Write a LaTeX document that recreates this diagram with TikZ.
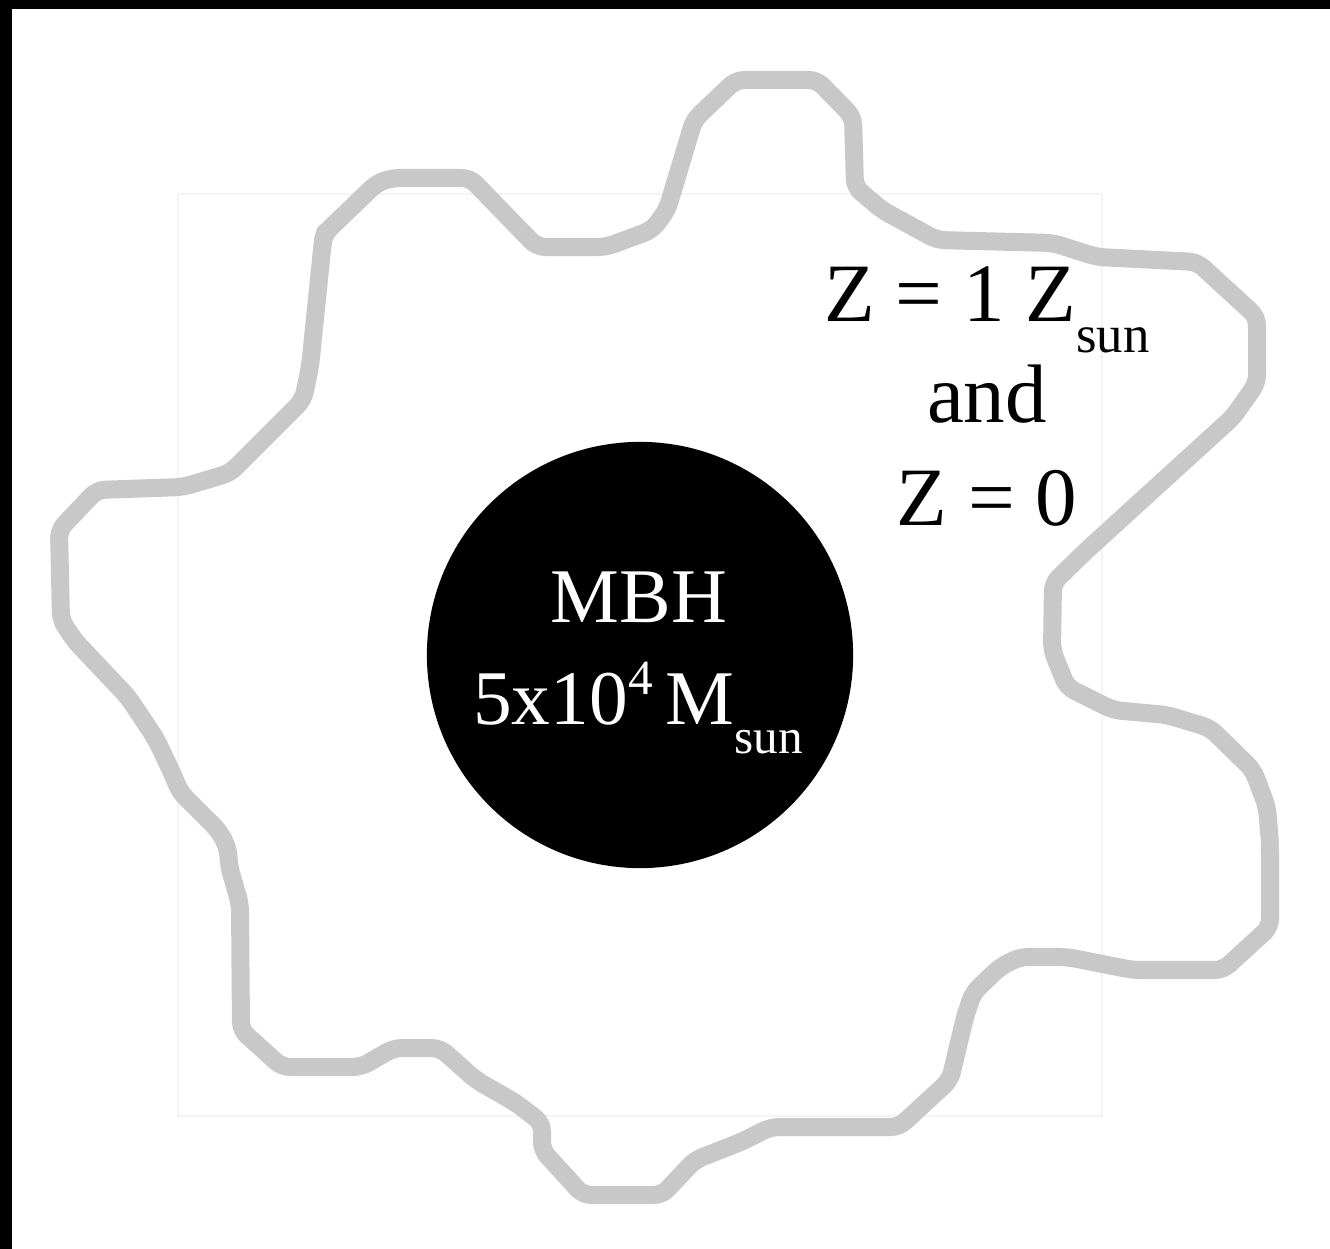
\documentclass[tikz,border=0pt]{standalone}
\usepackage{fontspec}
\setmainfont{Liberation Serif}
\usepackage{xcolor}
\definecolor{haze}{RGB}{200,200,200}
\definecolor{faint}{RGB}{244,244,244}
\newcommand{\lowtext}[2]{\raisebox{-#1}{\fontsize{#2}{#2}\selectfont sun}}
\newcommand{\hightext}[1]{\raisebox{0.3cm}{\fontsize{14pt}{14pt}\selectfont #1}}

\begin{document}
\begin{tikzpicture}[x=0.01cm, y=-0.01cm,
  cloud/.style={draw=haze, line width=0.18cm, line join=round, rounded corners=0.08cm},
  hole/.style={circle, fill=black, minimum size=4.26cm, inner sep=0pt},
  ztext/.style={inner sep=0pt, anchor=base, font=\fontsize{23.6pt}{28pt}\selectfont},
  bhtext/.style={inner sep=0pt, anchor=base, text=white, font=\fontsize{22pt}{26pt}\selectfont}
]
\useasboundingbox (0,0) rectangle (1330,1249);
\fill[white] (0,0) rectangle (1330,1249);
\fill[black] (0,0) rectangle (1330,9);
\fill[black] (0,0) rectangle (12,1249);
\draw[faint, line width=0.02cm] (178,194) rectangle (1102,1116);

\draw[cloud] (325,233) -- (377,183) -- (392,178) -- (470,178) -- (537,247) -- (606,247)
  -- (652,230) -- (667,210) -- (694,120) -- (736,80) -- (817,80) -- (853,117) -- (855,187)
  -- (882,210) -- (937,240) -- (1053,243) -- (1097,257) -- (1197,262) -- (1257,317)
  -- (1257,383) -- (1233,417) -- (1087,550) -- (1053,583) -- (1052,650) -- (1067,687)
  -- (1113,710) -- (1167,715) -- (1210,728) -- (1253,770) -- (1267,807) -- (1270,843)
  -- (1270,927) -- (1223,970) -- (1133,970) -- (1067,957) -- (1020,957) -- (1000,967)
  -- (973,993) -- (965,1017) -- (950,1080) -- (899,1127) -- (771,1127) -- (741,1142)
  -- (695,1160) -- (662,1195) -- (583,1195) -- (542,1150) -- (542,1123) -- (516,1103)
  -- (476,1080) -- (440,1048) -- (394,1048) -- (361,1067) -- (282,1067) -- (241,1030)
  -- (240,904) -- (229,866) -- (228,848) -- (219,831) -- (180,792) -- (173,775)
  -- (156,739) -- (128,697) -- (75,641) -- (61,620) -- (59,530) -- (97,490) -- (183,487)
  -- (230,473) -- (303,400) -- (310,367) -- (323,240) -- cycle;

\node[hole] (mbh) at (640,655) {};
\node[bhtext] (mbhname) at (639,623) {MBH};
\node[bhtext] (mbhmass) at (638,725) {5x10\hightext{4}\,M\lowtext{0.28cm}{14pt}};

\node[ztext] (zsolar) at (987,322) {Z = 1 Z\lowtext{0.3cm}{15pt}};
\node[ztext] (zand)   at (987,423) {and};
\node[ztext] (zzero)  at (987,525) {Z = 0};
\end{tikzpicture}
\end{document}
